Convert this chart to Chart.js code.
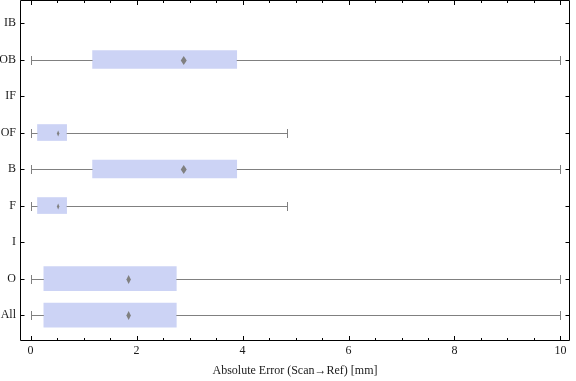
<!DOCTYPE html>
<html>
<head>
<meta charset="utf-8">
<script src="https://cdn.jsdelivr.net/npm/chart.js@4"></script>
<style>
  html, body { margin: 0; padding: 0; background: #fff; }
  #wrap { width: 576px; height: 381px; }
</style>
</head>
<body>
<div id="wrap"><canvas id="boxChart" width="576" height="381"></canvas></div>
<script>
// data, top to bottom
const categories = ['IB', 'OB', 'IF', 'OF', 'B', 'F', 'I', 'O', 'All'];
const whiskerLow = [null, 0, null, 0, 0, 0, null, 0, 0];
const quartile1 = [null, 1.17, null, 0.13, 1.17, 0.13, null, 0.25, 0.25];
const medians = [null, 2.89, null, 0.52, 2.89, 0.52, null, 1.85, 1.85];
const quartile3 = [null, 3.89, null, 0.68, 3.89, 0.68, null, 2.75, 2.75];
const whiskerHigh = [null, 10, null, 4.83, 10, 4.83, null, 10, 10];
const xTicks = [0, 2, 4, 6, 8, 10];

// styling
const boxThickness = [0, 18, 0, 16, 18, 16, 0, 24, 24];
const diamondW = [0, 6, 0, 2.5, 6, 2.5, 0, 4.5, 4.5];
const diamondH = [0, 9, 0, 6, 9, 6, 0, 9, 9];
const boxColor = 'rgb(204, 211, 245)';
const whiskerColor = '#808080';
const textColor = '#1a1a1a';
const serif = "'Liberation Serif', 'Times New Roman', serif";

// one dataset per box so each gets its own thickness
const datasets = [];
categories.forEach((c, i) => {
    if (quartile1[i] == null) return;
    datasets.push({
        type: 'bar',
        label: c,
        data: [{ x: [quartile1[i], quartile3[i]], y: i }],
        backgroundColor: boxColor,
        borderWidth: 0,
        barThickness: boxThickness[i],
        grouped: false
    });
});

// whiskers, caps and median diamonds
const boxExtras = {
    id: 'boxExtras',
    afterDatasetsDraw(chart) {
        const { ctx, scales: { x, y } } = chart;
        ctx.save();
        categories.forEach((c, i) => {
            if (whiskerLow[i] == null) return;
            const py = Math.round(y.getPixelForValue(i)) + 0.5;
            const pLo = Math.round(x.getPixelForValue(whiskerLow[i])) + 0.5;
            const pQ1 = x.getPixelForValue(quartile1[i]);
            const pQ3 = x.getPixelForValue(quartile3[i]);
            const pHi = Math.round(x.getPixelForValue(whiskerHigh[i])) + 0.5;
            ctx.strokeStyle = whiskerColor;
            ctx.lineWidth = 1;
            ctx.beginPath();
            ctx.moveTo(pLo, py); ctx.lineTo(pQ1, py);
            ctx.moveTo(pQ3, py); ctx.lineTo(pHi, py);
            ctx.moveTo(pLo, py - 4.5); ctx.lineTo(pLo, py + 4.5);
            ctx.moveTo(pHi, py - 4.5); ctx.lineTo(pHi, py + 4.5);
            ctx.stroke();

            const pm = x.getPixelForValue(medians[i]);
            const w = diamondW[i] / 2, h = diamondH[i] / 2;
            ctx.fillStyle = whiskerColor;
            ctx.beginPath();
            ctx.moveTo(pm, py - h);
            ctx.lineTo(pm + w, py);
            ctx.lineTo(pm, py + h);
            ctx.lineTo(pm - w, py);
            ctx.closePath();
            ctx.fill();
        });
        ctx.restore();
    }
};

// frame with inward ticks
const frame = {
    id: 'frame',
    afterDraw(chart) {
        const { ctx, chartArea: a, scales: { x, y } } = chart;
        const L = Math.round(a.left) + 0.5, R = Math.round(a.right) - 0.5;
        const T = Math.round(a.top) + 0.5, B = Math.round(a.bottom) - 0.5;
        ctx.save();
        ctx.strokeStyle = '#000';
        ctx.lineWidth = 1;
        ctx.beginPath();
        ctx.rect(L, T, R - L, B - T);
        for (let v = 0; v <= 10.001; v += 0.5) {
            const px = Math.round(x.getPixelForValue(v)) + 0.5;
            const len = Math.abs(v % 2) < 1e-6 ? 4.5 : 2.5;
            ctx.moveTo(px, B); ctx.lineTo(px, B - len);
            ctx.moveTo(px, T); ctx.lineTo(px, T + len);
        }
        categories.forEach((c, i) => {
            const py = Math.round(y.getPixelForValue(i)) + 0.5;
            ctx.moveTo(L, py); ctx.lineTo(L + 4, py);
            ctx.moveTo(R, py); ctx.lineTo(R - 4, py);
        });
        ctx.stroke();
        ctx.restore();
    }
};

const ctx = document.getElementById('boxChart').getContext('2d');
const myChart = new Chart(ctx, {
    data: { datasets: datasets },
    plugins: [boxExtras, frame],
    options: {
        indexAxis: 'y',
        responsive: false,
        animation: false,
        layout: { padding: { top: 0, right: 6, bottom: 0, left: 0 } },
        plugins: { legend: { display: false }, tooltip: { enabled: false } },
        scales: {
            x: {
                type: 'linear',
                min: -0.2,
                max: 10.18,
                offset: false,
                afterBuildTicks: s => { s.ticks = xTicks.map(v => ({ value: v })); },
                afterFit: s => {
                    s.height = 40;
                    s.paddingLeft = 0; s.paddingRight = 0;
                },
                grid: { display: false, drawTicks: false },
                border: { display: false },
                ticks: {
                    padding: 3,
                    color: textColor,
                    font: { family: serif, size: 12 },
                    maxRotation: 0
                },
                title: {
                    display: true,
                    text: 'Absolute Error (Scan\u2192Ref) [mm]',
                    color: textColor,
                    font: { family: serif, size: 12 },
                    padding: { top: 0, bottom: 3 }
                }
            },
            y: {
                type: 'linear',
                reverse: true,
                min: -0.63,
                max: 8.71,
                offset: false,
                afterBuildTicks: s => { s.ticks = categories.map((c, i) => ({ value: i })); },
                afterFit: s => {
                    s.width = 20;
                    s.paddingTop = 0; s.paddingBottom = 0;
                },
                grid: { display: false, drawTicks: false },
                border: { display: false },
                ticks: {
                    padding: 4,
                    color: textColor,
                    font: { family: serif, size: 12 },
                    callback: v => categories[v]
                }
            }
        }
    }
});
</script>
</body>
</html>
